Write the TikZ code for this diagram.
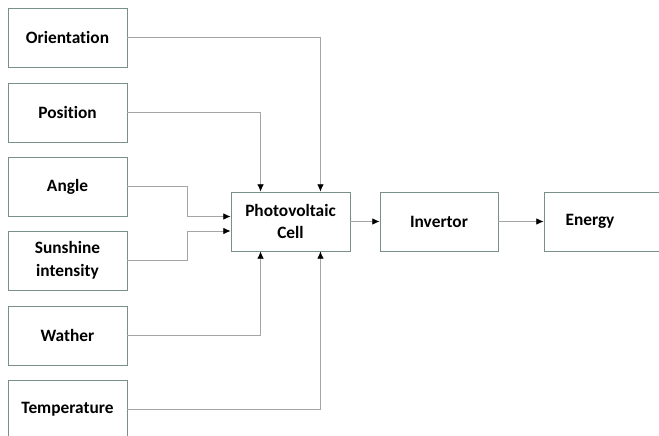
\documentclass[tikz,border=0pt]{standalone}
\usepackage{fontspec}
\setmainfont{Carlito}[Ligatures={NoCommon}]
\usetikzlibrary{arrows.meta,calc}
\definecolor{boxc}{RGB}{120,145,132}
\definecolor{linec}{RGB}{165,165,165}
\begin{document}
\begin{tikzpicture}[
    x=0.75pt, y=-0.75pt,
    every node/.style={font=\fontsize{13}{17}\selectfont\bfseries, align=center},
    box/.style={rectangle, draw=boxc, line width=0.6pt, minimum width=89.25pt, minimum height=44.25pt, inner sep=0pt},
    conn/.style={draw=linec, line width=0.7pt, -{Latex[length=5.5pt, width=5pt, color=black]}}
]
\useasboundingbox (0,0) rectangle (659,435);
\node[box] (ori) at (67.5, 37.5)  {Orientation};
\node[box] (pos) at (67.5, 112.5) {Position};
\node[box] (ang) at (67.5, 186.5) {Angle};
\node[box] (sun) at (67.5, 260.5) {Sunshine\\intensity};
\node[box] (wat) at (67.5, 335.5) {Wather};
\node[box] (tem) at (67.5, 409.5) {Temperature};
\node[box] (pv)  at (290.5, 221.5) {Photovoltaic\\Cell};
\node[box, minimum width=88.5pt] (inv) at (439, 221.5) {Invertor};
\node[box] (en)  at (603.5, 221.5) {};
\node (entxt) at (590, 221.5) {Energy};
\draw[conn] (ori.east) -| ($(pv.north)!.5!(pv.north east)$);
\draw[conn] (pos.east) -| ($(pv.north west)!.5!(pv.north)$);
\draw[conn] (ang.east) -- ++(60,0) |- ($(pv.west)+(0,-5)$);
\draw[conn] (sun.east) -- ++(60,0) |- ($(pv.west)+(0,9.5)$);
\draw[conn] (wat.east) -| ($(pv.south west)!.5!(pv.south)$);
\draw[conn] (tem.east) -| ($(pv.south)!.5!(pv.south east)$);
\draw[conn] (pv.east)  -- (inv.west);
\draw[conn] (inv.east) -- (en.west);
\end{tikzpicture}
\end{document}
